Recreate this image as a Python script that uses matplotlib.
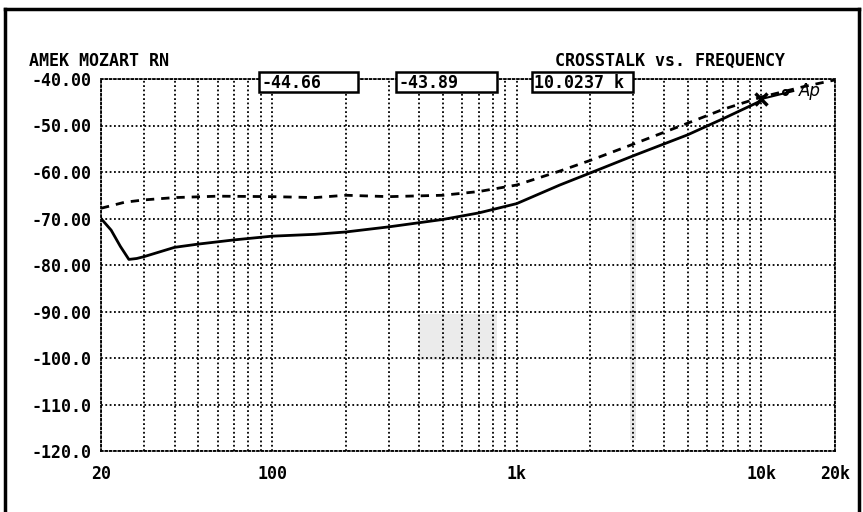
import matplotlib.pyplot as plt
from matplotlib.lines import Line2D
from matplotlib.patches import Rectangle

# crosstalk, channel A (solid) and channel B (dashed), dB vs Hz
freq_a = [20, 22, 24, 26, 28, 30, 40, 50, 70, 100, 150, 200, 300, 500, 700,
          1000, 1500, 2000, 3000, 5000, 7000, 10000]
level_a = [-70.0, -72.5, -76.0, -78.8, -78.6, -78.2, -76.2, -75.5, -74.6, -73.8,
           -73.4, -72.9, -71.8, -70.2, -68.8, -66.8, -62.8, -60.2, -56.5, -52.0,
           -48.5, -44.66]
freq_b = [20, 25, 30, 40, 60, 100, 150, 200, 300, 500, 700, 1000, 1500, 2000,
          3000, 5000, 7000, 10000, 15000, 20000]
level_b = [-67.8, -66.5, -66.0, -65.5, -65.2, -65.3, -65.5, -65.0, -65.3, -65.0,
           -64.2, -62.8, -59.8, -57.5, -54.0, -49.5, -46.5, -43.89, -41.6, -40.2]

cursor_a = "-44.66"
cursor_b = "-43.89"
cursor_f = "10.0237 k"

x_ticks = [20, 100, 1000, 10000, 20000]
x_labels = ["20", "100", "1k", "10k", "20k"]
y_ticks = [-40, -50, -60, -70, -80, -90, -100, -110, -120]
y_labels = ["-40.00", "-50.00", "-60.00", "-70.00", "-80.00", "-90.00",
            "-100.0", "-110.0", "-120.0"]
minor_x = [30, 40, 50, 60, 70, 80, 90, 200, 300, 400, 500, 600, 700, 800, 900,
           2000, 3000, 4000, 5000, 6000, 7000, 8000, 9000]

W, H = 863, 512
plt.rcParams['font.family'] = 'DejaVu Sans Mono'
plt.rcParams['font.weight'] = 'bold'

fig = plt.figure(figsize=(W / 100, H / 100), dpi=100)
ax = fig.add_axes([101 / W, 1 - 451 / H, 734 / W, 372 / H])
ax.set_xscale('log')
ax.set_xlim(20, 20000)
ax.set_ylim(-120, -40)

dots = (0, (1, 1.4))
ax.set_xticks(x_ticks)
ax.set_xticklabels(x_labels)
ax.set_xticks(minor_x, minor=True)
ax.xaxis.set_minor_formatter(plt.NullFormatter())
ax.set_yticks(y_ticks)
ax.set_yticklabels(y_labels)
ax.tick_params(which='both', length=0, labelsize=12)
ax.tick_params(axis='x', pad=10)
ax.tick_params(axis='y', pad=7)
ax.grid(which='both', color='black', linestyle=dots, linewidth=1.3)
for s in ax.spines.values():
    s.set_linestyle(dots)
    s.set_linewidth(1.3)

# scanner smudges
ax.add_patch(Rectangle((400, -100.5), 430, 10, color='#d8d8d8', alpha=0.5, lw=0, zorder=0))
ax.axvspan(2900, 3080, ymin=0.03, ymax=0.63, color='#d0d0d0', alpha=0.5, lw=0, zorder=0)

ax.plot(freq_a, level_a, color='black', lw=2)
ax.plot(freq_b, level_b, color='black', lw=2, linestyle=(0, (3, 2.5)))
ax.plot([10000], [-44.3], marker='x', color='black', ms=9, mew=2.5)
ax.plot([10000, 13500], [-44.3, -42.6], color='black', lw=1.5)
ax.plot([12500], [-42.9], marker='o', color='black', ms=3.5, mfc='none', mew=1.5)
ax.text(14300, -42.5, "Ap", fontsize=12, fontweight='normal', style='italic',
        family='DejaVu Sans', va='center', ha='left')

# headings
fig.text(29 / W, 1 - 66 / H, "AMEK MOZART RN", fontsize=12)
fig.text(555 / W, 1 - 66 / H, "CROSSTALK vs. FREQUENCY", fontsize=12)

# cursor readouts
for x0, x1, s in [(259, 358, cursor_a), (396, 497, cursor_b), (532, 633, cursor_f)]:
    fig.add_artist(Rectangle((x0 / W, 1 - 92 / H), (x1 - x0) / W, 20 / H,
                             transform=fig.transFigure, fill=True, fc='white',
                             ec='black', lw=1.8))
    fig.text((x0 + 2) / W, 1 - 83 / H, s, fontsize=12, va='center')

# outer frame
fig.add_artist(Line2D([5 / W, 5 / W], [0, 1 - 9 / H], color='black', lw=2.5))
fig.add_artist(Line2D([5 / W, 859 / W], [1 - 9 / H, 1 - 9 / H], color='black', lw=2.5))
fig.add_artist(Line2D([859 / W, 859 / W], [0, 1 - 9 / H], color='black', lw=2.5))

fig.savefig('out.png', dpi=100)
